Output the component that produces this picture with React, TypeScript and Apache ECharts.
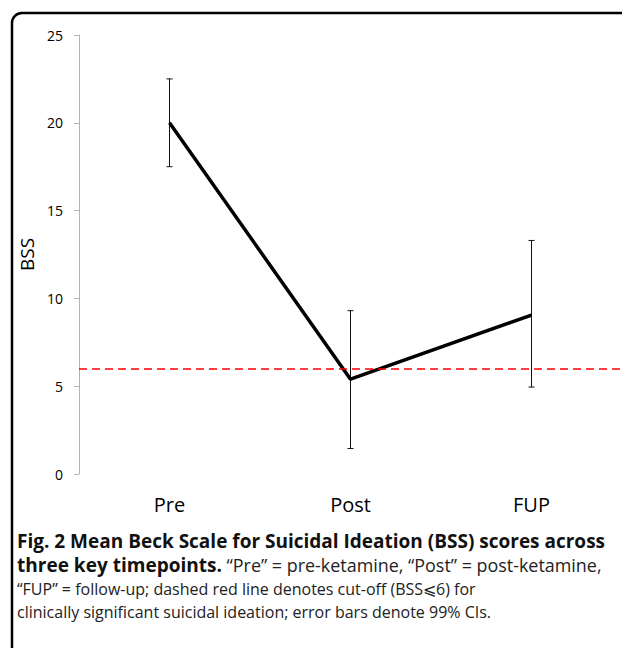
import React, { useEffect, useRef } from "react";
import * as echarts from "echarts";

const categories = ["Pre", "Post", "FUP"];
const meanBSS = [20, 5.4, 9.05];
const ciLower = [17.5, 1.45, 4.95];
const ciUpper = [22.5, 9.3, 13.3];
const cutOff = 6;
const yTicks = { min: 0, max: 25, interval: 5 };

const captionLine1 = "Fig. 2 Mean Beck Scale for Suicidal Ideation (BSS) scores across";
const captionLine2Bold = "three key timepoints.";
const captionLine2Rest = " “Pre” = pre-ketamine, “Post” = post-ketamine,";
const captionLine3 = "“FUP” = follow-up; dashed red line denotes cut-off (BSS\u2A7D6) for";
const captionLine4 = "clinically significant suicidal ideation; error bars denote 99% CIs.";

const FONT = "'Open Sans', 'Noto Sans', sans-serif";

function measure(text: string, weight: string, size: number): number {
  const c = document.createElement("canvas");
  const ctx = c.getContext("2d");
  if (!ctx) return text.length * size * 0.55;
  ctx.font = `${weight} ${size}px ${FONT}`;
  return ctx.measureText(text).width;
}

export default function App() {
  const ref = useRef<HTMLDivElement>(null);
  useEffect(() => {
    if (!ref.current) return;
    const chart = echarts.init(ref.current, undefined, { renderer: "svg" });

    const capX = 17;
    const target = 589;
    const clamp = (v: number, a: number, b: number) => Math.max(a, Math.min(b, v));
    const w1 = measure(captionLine1, "bold", 17);
    const s1 = clamp((17 * target) / w1, 15, 19);
    const w2 = measure(captionLine2Bold, "bold", 17) + measure(captionLine2Rest, "normal", 16);
    const k2 = clamp(target / w2, 0.9, 1.12);

    chart.setOption({
      animation: false,
      backgroundColor: "#ffffff",
      textStyle: { fontFamily: FONT },
      grid: { left: 79, top: 35, width: 549, height: 439, containLabel: false },
      xAxis: {
        type: "category",
        data: categories,
        boundaryGap: true,
        axisLine: { show: false },
        axisTick: { show: false },
        axisLabel: { color: "#000", fontSize: 20, margin: 20, fontFamily: FONT },
        splitLine: { show: false },
      },
      yAxis: {
        type: "value",
        min: yTicks.min,
        max: yTicks.max,
        interval: yTicks.interval,
        name: "BSS",
        nameLocation: "middle",
        nameGap: 37,
        nameTextStyle: { color: "#000", fontSize: 19, fontFamily: FONT },
        axisLine: { show: true, lineStyle: { color: "#b3b3b3", width: 1 } },
        axisTick: { show: true, length: 5, lineStyle: { color: "#b3b3b3" } },
        axisLabel: { color: "#000", fontSize: 14, margin: 16, fontFamily: FONT },
        splitLine: { show: false },
      },
      series: [
        {
          type: "line",
          data: meanBSS,
          symbol: "none",
          lineStyle: { color: "#000", width: 3.5 },
          z: 3,
          markLine: {
            silent: true,
            symbol: ["none", "none"],
            label: { show: false },
            lineStyle: { color: "#ff0000", type: [8, 5], width: 1.5 },
            data: [{ yAxis: cutOff }],
          },
        },
        {
          type: "custom",
          data: categories.map((_, i) => [i, ciLower[i], ciUpper[i]]),
          z: 2,
          renderItem: (params: any, api: any) => {
            const x = api.value(0);
            const lo = api.coord([x, api.value(1)]);
            const hi = api.coord([x, api.value(2)]);
            const hw = 3;
            const st = { stroke: "#111", lineWidth: 1 };
            return {
              type: "group",
              children: [
                { type: "line", shape: { x1: lo[0], y1: lo[1], x2: hi[0], y2: hi[1] }, style: st },
                { type: "line", shape: { x1: lo[0] - hw, y1: lo[1], x2: lo[0] + hw, y2: lo[1] }, style: st },
                { type: "line", shape: { x1: hi[0] - hw, y1: hi[1], x2: hi[0] + hw, y2: hi[1] }, style: st },
              ],
            };
          },
        },
      ],
      graphic: [
        {
          type: "rect",
          shape: { x: 12, y: 13, width: 800, height: 800, r: 10 },
          style: { fill: "none", stroke: "#000", lineWidth: 2.5 },
          silent: true,
        },
        {
          type: "text",
          x: capX,
          y: 541,
          style: {
            text: captionLine1,
            fontFamily: FONT,
            fontWeight: "bold",
            fontSize: s1,
            fill: "#111",
            verticalAlign: "middle",
          },
        },
        {
          type: "text",
          x: capX,
          y: 565,
          style: {
            text: "{b|" + captionLine2Bold + "}{r|" + captionLine2Rest + "}",
            fontFamily: FONT,
            verticalAlign: "middle",
            rich: {
              b: { fontFamily: FONT, fontWeight: "bold", fontSize: 17 * k2, fill: "#111" },
              r: { fontFamily: FONT, fontSize: 16 * k2, fill: "#222" },
            },
          },
        },
        {
          type: "text",
          x: capX,
          y: 589,
          style: { text: captionLine3, fontFamily: FONT, fontSize: 16, fill: "#222", verticalAlign: "middle" },
        },
        {
          type: "text",
          x: capX,
          y: 612,
          style: { text: captionLine4, fontFamily: FONT, fontSize: 16, fill: "#222", verticalAlign: "middle" },
        },
      ],
    });
    return () => chart.dispose();
  }, []);
  return (
    <div
      ref={ref}
      style={{ position: "fixed", left: 0, top: 0, width: 622, height: 648, background: "#fff" }}
    />
  );
}
